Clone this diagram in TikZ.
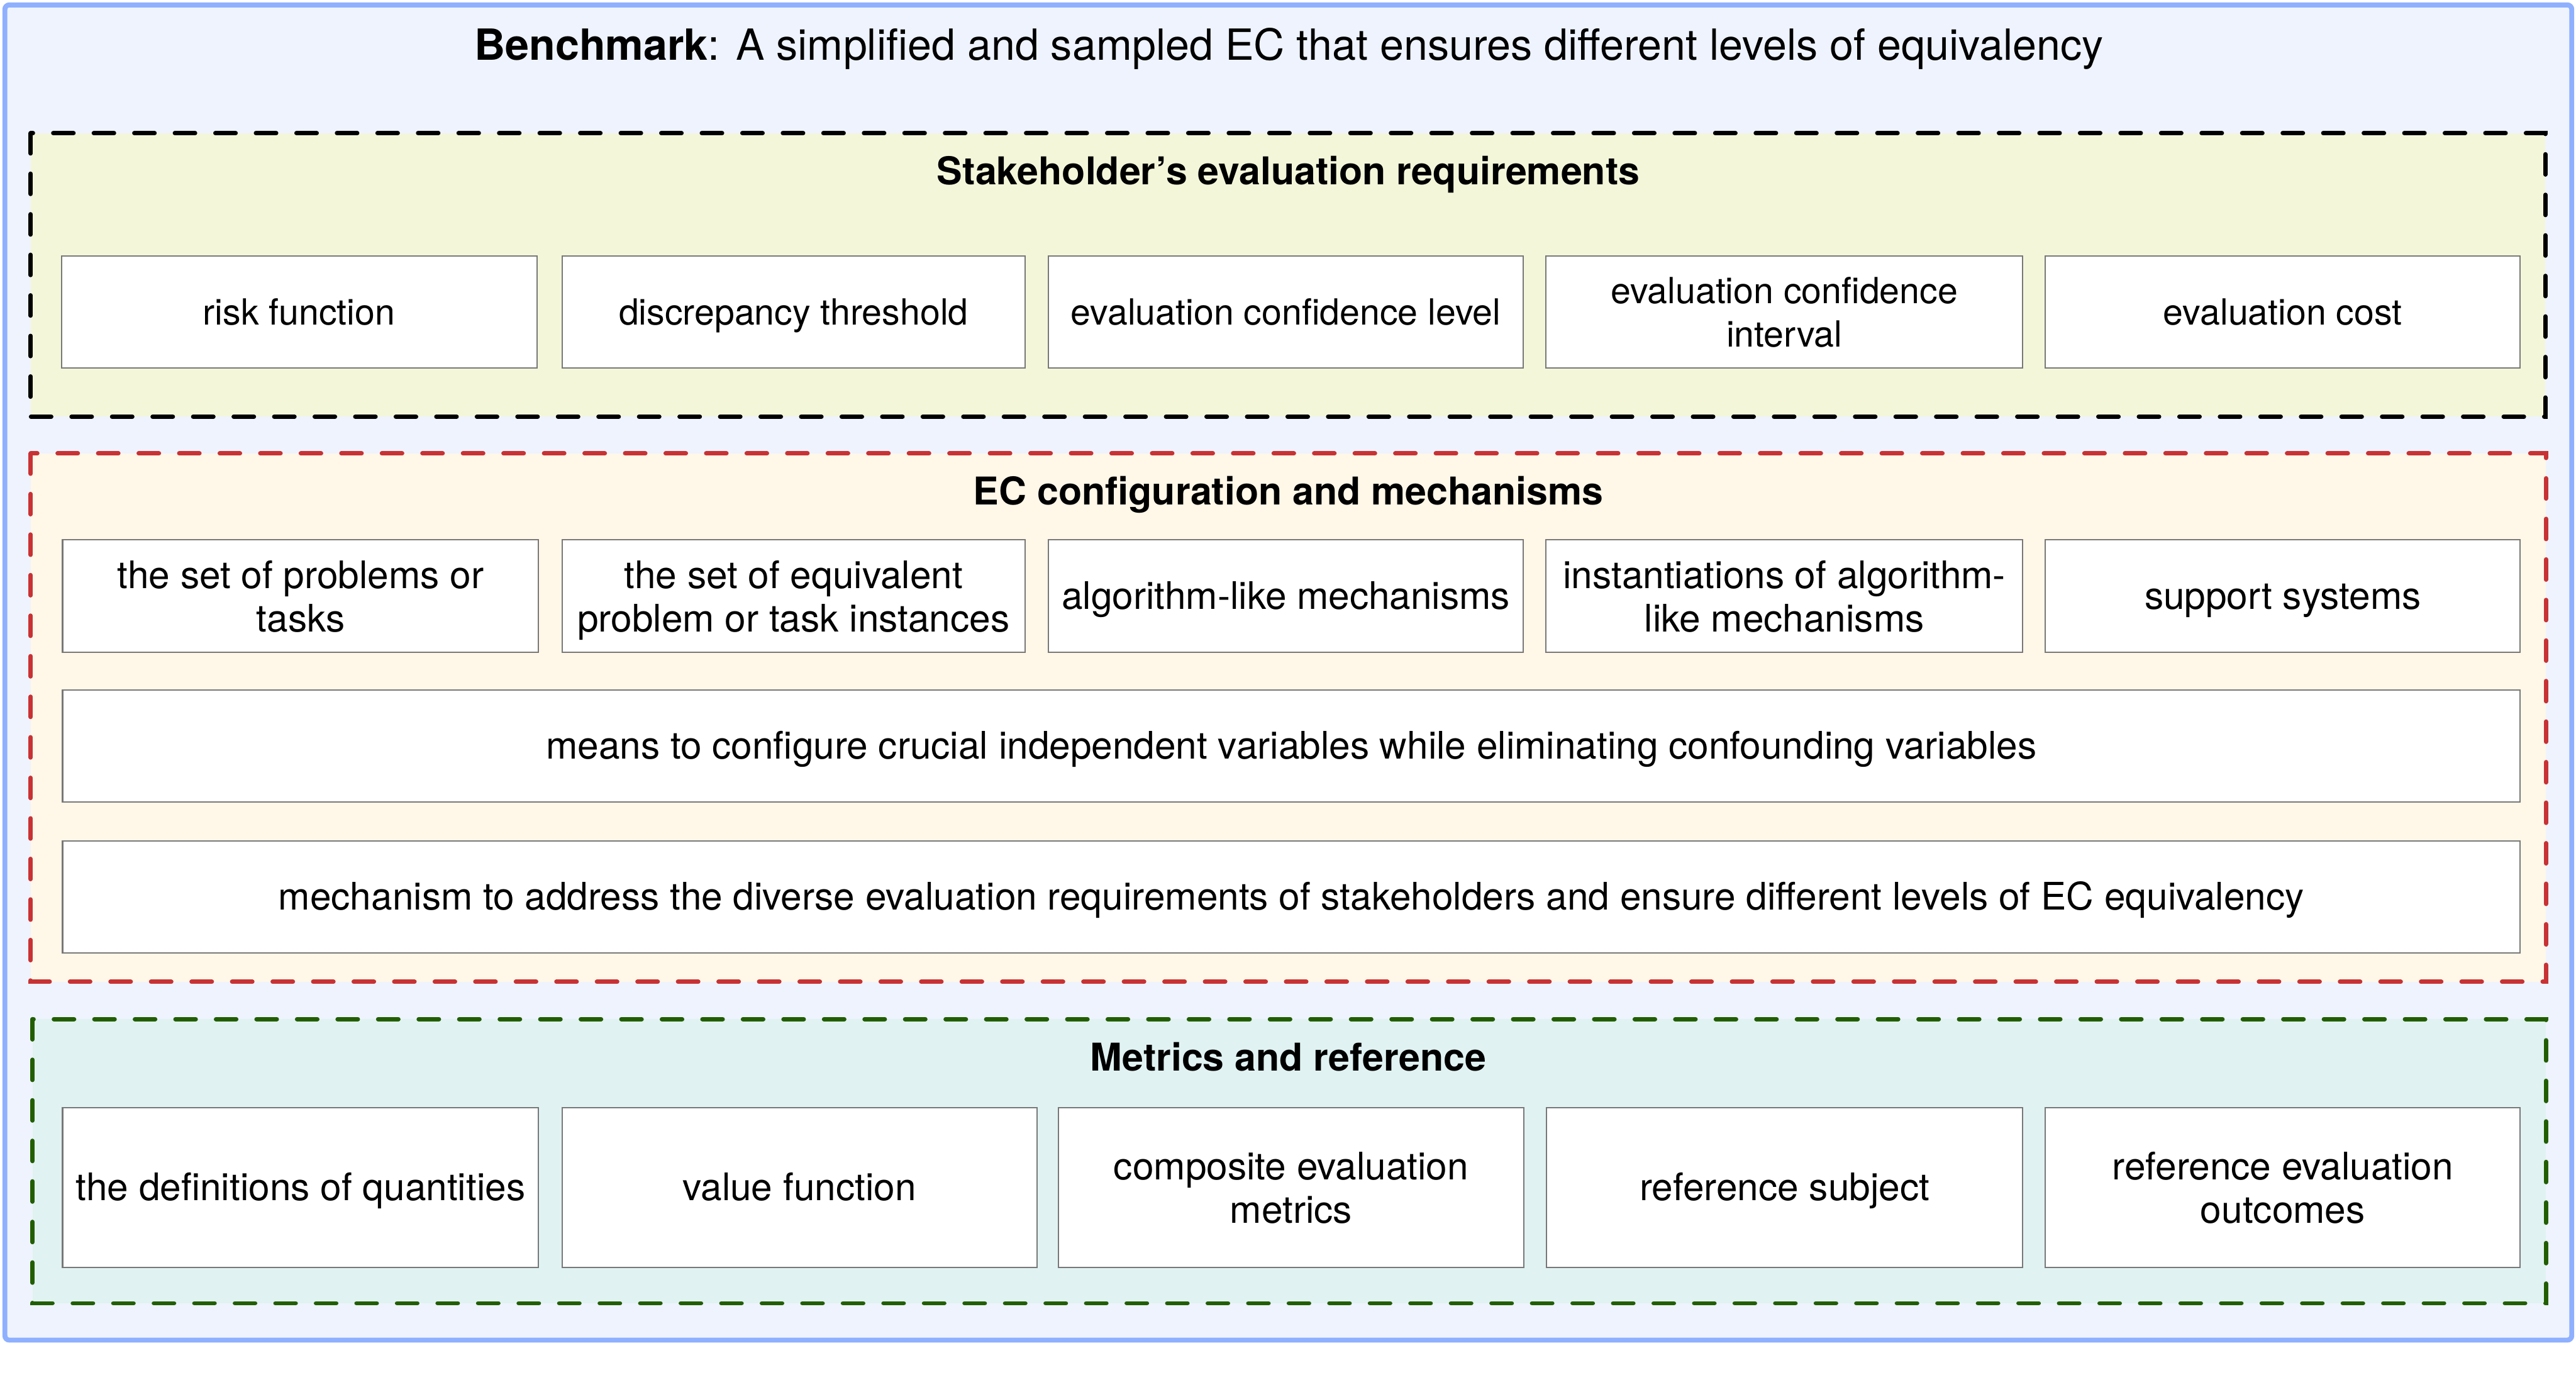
\documentclass[tikz,border=0pt]{standalone}
\usepackage{fontspec}
\setmainfont{TeX Gyre Heros}
\usepackage{xcolor}
\definecolor{skyline}{RGB}{143,176,255}
\definecolor{skyfill}{RGB}{238,243,253}
\definecolor{olivefill}{RGB}{244,246,218}
\definecolor{brick}{RGB}{200,50,52}
\definecolor{creamfill}{RGB}{255,247,232}
\definecolor{forest}{RGB}{34,94,0}
\definecolor{mintfill}{RGB}{224,242,241}
\definecolor{frame}{RGB}{120,120,120}
\usepackage{tikz}
\usetikzlibrary{positioning}
\newcommand\boxstrut{\rule[-4.1pt]{0pt}{20.2pt}}
\tikzset{
  item/.style={draw=frame, line width=0.6pt, fill=white, align=center,
               inner sep=0pt, minimum height=1.83cm,
               execute at begin node=\boxstrut,
               font=\fontsize{17.6}{20.2}\selectfont},
  req/.style={item, font=\fontsize{16.7}{20.2}\selectfont},
  twoline/.style={text depth=0pt},
  group/.style={line width=2pt, line cap=round,
                dash pattern=on 9.4pt off 9.4pt},
  heading/.style={anchor=base, font=\fontsize{17.75}{21}\selectfont\bfseries},
}

\begin{document}
\begin{tikzpicture}
  \useasboundingbox (0,0) rectangle (41.99,-22.68);
  \def\ya{-5.085}
  \def\yb{-9.715}
  \def\yc{-19.355}
  %% Benchmark frame
  \filldraw[fill=skyfill, draw=skyline, line width=2.3pt, rounded corners=2pt]
    (0.08,-0.08) rectangle (41.92,-21.84);
  \node[anchor=base, font=\fontsize{19.9}{24}\selectfont] (bench) at (21.01,-0.98)
    {\textbf{Benchmark}: A simplified and sampled EC that ensures different levels of equivalency};
  %% Stakeholder's evaluation requirements
  \filldraw[group, fill=olivefill, draw=black] (0.50,-2.17) rectangle (41.49,-6.79);
  \node[heading] (stake) at (21.0,-3.01) {Stakeholder’s evaluation requirements};
  \node[req, minimum width=7.75cm] (risk)     at (4.875,\ya)  {risk function};
  \node[req, minimum width=7.55cm] (thresh)   at (12.935,\ya) {discrepancy threshold};
  \node[req, minimum width=7.74cm] (level)    at (20.96,\ya)  {evaluation confidence level};
  \node[req, twoline, minimum width=7.77cm] (interval) at (29.085,\ya) {evaluation confidence\\interval};
  \node[req, minimum width=7.74cm] (cost)     at (37.21,\ya)  {evaluation cost};
  %% EC configuration and mechanisms
  \filldraw[group, fill=creamfill, draw=brick] (0.50,-7.39) rectangle (41.50,-16.00);
  \node[heading] (config) at (21.0,-8.23) {EC configuration and mechanisms};
  \node[item, twoline, minimum width=7.76cm] (tasks)     at (4.90,\yb)   {the set of problems or\\tasks};
  \node[item, twoline, minimum width=7.55cm] (instances) at (12.935,\yb) {the set of equivalent\\problem or task instances};
  \node[item, minimum width=7.74cm] (algo)      at (20.96,\yb)  {algorithm-like mechanisms};
  \node[item, twoline, minimum width=7.77cm] (instant)   at (29.085,\yb) {instantiations of algorithm-\\like mechanisms};
  \node[item, minimum width=7.74cm] (support)   at (37.21,\yb)  {support systems};
  \node[item, minimum width=40.06cm, minimum height=1.82cm] (means) at (21.05,-12.16)
    {means to configure crucial independent variables while eliminating confounding variables};
  \node[item, minimum width=40.06cm, minimum height=1.82cm] (address) at (21.05,-14.62)
    {mechanism to address the diverse evaluation requirements of stakeholders and ensure different levels of EC equivalency};
  %% Metrics and reference
  \filldraw[group, fill=mintfill, draw=forest] (0.53,-16.61) rectangle (41.50,-21.24);
  \node[heading] (metrics) at (21.0,-17.45) {Metrics and reference};
  \node[item, minimum width=7.76cm, minimum height=2.61cm] (quant)     at (4.90,\yc)   {the definitions of quantities};
  \node[item, minimum width=7.74cm, minimum height=2.61cm] (value)     at (13.03,\yc)  {value function};
  \node[item, twoline, minimum width=7.59cm, minimum height=2.61cm] (composite) at (21.045,\yc) {composite evaluation\\metrics};
  \node[item, minimum width=7.76cm, minimum height=2.61cm] (subject)   at (29.09,\yc)  {reference subject};
  \node[item, twoline, minimum width=7.74cm, minimum height=2.61cm] (outcomes)  at (37.21,\yc)  {reference evaluation\\outcomes};
\end{tikzpicture}
\end{document}
